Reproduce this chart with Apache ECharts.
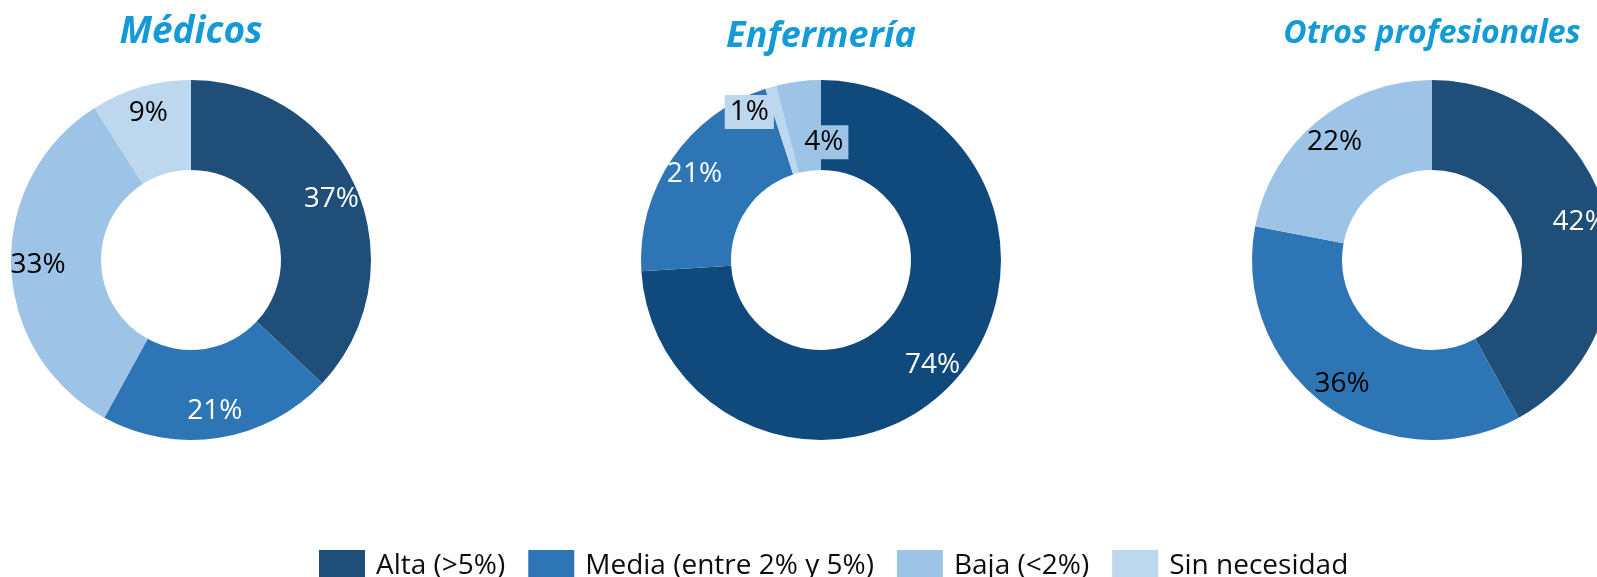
<!DOCTYPE html>
<html>
<head>
<meta charset="utf-8">
<script src="https://cdn.jsdelivr.net/npm/echarts@6/dist/echarts.min.js"></script>
<style>
  html, body { margin: 0; padding: 0; background: #fff; }
  #chart { width: 1597px; height: 577px; }
</style>
</head>
<body>
<div id="chart"></div>
<script>
// categories and values per group (percentages)
const categories = ['Alta (>5%)', 'Media (entre 2% y 5%)', 'Baja (<2%)', 'Sin necesidad'];
const groups = ['Médicos', 'Enfermería', 'Otros profesionales'];
const medicos = [37, 21, 33, 9];
const enfermeria = [74, 21, 1, 4];
const otros = [42, 36, 22, 0];

// styles
const palettes = [
    ['#1f4e79', '#2e75b6', '#9dc3e6', '#bdd7ee'],
    ['#104a7c', '#2e75b6', '#bdd7ee', '#9dc3e6'],
    ['#1f4e79', '#2e75b6', '#9dc3e6', '#bdd7ee']
];
const labelColors = [
    ['#fff', '#fff', '#000', '#000'],
    ['#fff', '#fff', '#000', '#000'],
    ['#fff', '#000', '#000', '#000']
];
const centers = [[191, 260], [821, 260], [1432, 260]];
const titlePos = [[191, 32, 37], [821, 37, 36], [1432, 34, 32]];
const FONT = '"Open Sans", "DejaVu Sans", sans-serif';

let chart = echarts.init(document.getElementById('chart'));

let valuesList = [medicos, enfermeria, otros];
let ringSeries = [];
let labelSeries = [];

valuesList.forEach(function(values, g) {
    ringSeries.push({
        name: groups[g],
        type: 'pie',
        center: centers[g],
        radius: [90, 180],
        startAngle: 90,
        silent: true,
        label: { show: false },
        labelLine: { show: false },
        data: values.map(function(v, i) {
            return {
                value: v,
                name: categories[i],
                itemStyle: { color: palettes[g][i] }
            };
        })
    });

    // transparent twin, only used to place the percentages a bit outside the ring middle
    labelSeries.push({
        name: groups[g] + ' labels',
        type: 'pie',
        center: centers[g],
        radius: [0, 300],
        startAngle: 90,
        silent: true,
        z: 5,
        itemStyle: { color: 'rgba(0,0,0,0)' },
        labelLine: { show: false },
        label: {
            show: true,
            position: 'inside',
            fontFamily: FONT,
            fontSize: 28,
            formatter: function(p) {
                return p.value > 0 ? p.value + '%' : '';
            }
        },
        labelLayout: g === 1 ? function(p) {
            if (p.dataIndex === 2) return { dx: -29, dy: -1 };
            if (p.dataIndex === 3) return { dx: 22, dy: 34 };
        } : null,
        data: values.map(function(v, i) {
            let label = { color: labelColors[g][i] };
            if (g === 1 && i >= 2) {
                label.backgroundColor = palettes[g][i];
                label.padding = [2, 5, 0, 5];
                label.lineHeight = 32;
            }
            return { value: v, name: categories[i], label: label };
        })
    });
});

chart.setOption({
    animation: false,
    legend: {
        data: categories,
        left: 314,
        top: 545,
        itemWidth: 46,
        itemHeight: 32,
        itemGap: 23,
        icon: 'rect',
        selectedMode: false,
        textStyle: {
            fontFamily: FONT,
            fontSize: 28,
            color: '#0d0d0d',
            padding: [0, 0, 0, 6]
        }
    },
    graphic: titlePos.map(function(t, g) {
        return {
            type: 'text',
            x: t[0],
            y: t[1],
            style: {
                text: groups[g],
                font: 'italic bold ' + t[2] + 'px ' + FONT,
                fill: '#149bd7',
                align: 'center',
                verticalAlign: 'middle'
            }
        };
    }),
    series: ringSeries.concat(labelSeries)
});
</script>
</body>
</html>
